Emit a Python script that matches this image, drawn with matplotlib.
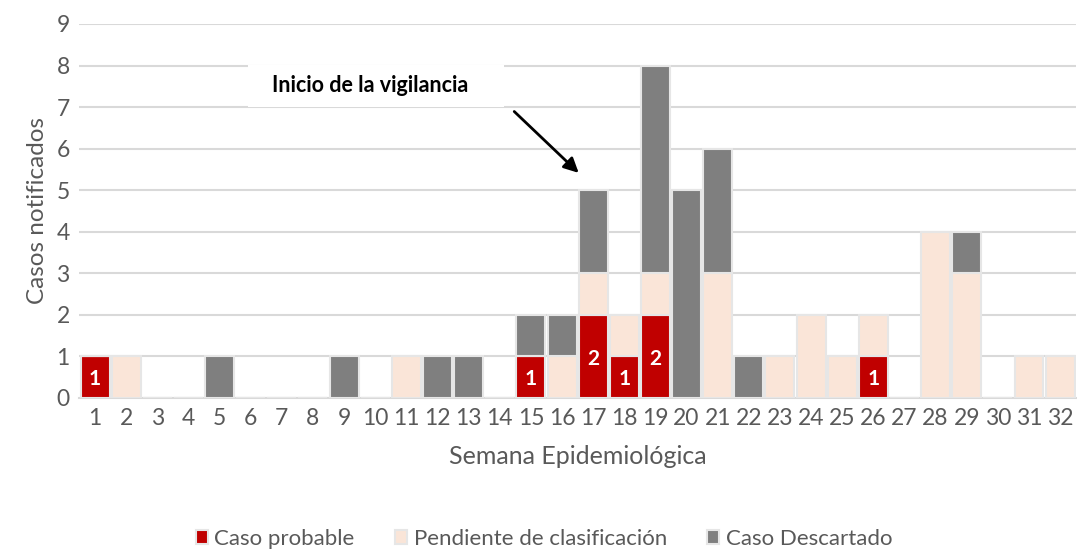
import numpy as np
import matplotlib.pyplot as plt
from matplotlib.patches import Rectangle

plt.rcParams['font.family'] = ['Lato', 'DejaVu Sans']

weeks = list(range(1, 33))
probable = [1, 0, 0, 0, 0, 0, 0, 0, 0, 0, 0, 0, 0, 0, 1, 0,
            2, 1, 2, 0, 0, 0, 0, 0, 0, 1, 0, 0, 0, 0, 0, 0]
pendiente = [0, 1, 0, 0, 0, 0, 0, 0, 0, 0, 1, 0, 0, 0, 0, 1,
             1, 1, 1, 0, 3, 0, 1, 2, 1, 1, 0, 4, 3, 0, 1, 1]
descartado = [0, 0, 0, 0, 1, 0, 0, 0, 1, 0, 0, 1, 1, 0, 1, 1,
              2, 0, 5, 5, 3, 1, 0, 0, 0, 0, 0, 0, 1, 0, 0, 0]

c_prob = '#c00000'
c_pend = '#fae5d8'
c_desc = '#7f7f7f'
txt = '#595959'

fig = plt.figure(figsize=(10.77, 5.5), dpi=100)
ax = fig.add_axes([0.0738, 0.2764, 0.925, 0.68])

x = np.array(weeks)
p = np.array(probable)
pe = np.array(pendiente)
d = np.array(descartado)
w = 0.93
kw = dict(width=w, edgecolor='#e6e6e6', linewidth=1.5, zorder=3)
b1 = ax.bar(x, p, color=c_prob, label='Caso probable', **kw)
b2 = ax.bar(x, pe, bottom=p, color=c_pend, label='Pendiente de clasificación', **kw)
b3 = ax.bar(x, d, bottom=p + pe, color=c_desc, label='Caso Descartado', **kw)

for xi, v in zip(x, p):
    if v > 0:
        ax.text(xi, v / 2 - 0.05, str(v), ha='center', va='center', color='white',
                fontsize=15, fontweight='bold', zorder=4)

ax.set_xlim(0.5, 32.5)
ax.set_ylim(0, 9)
ax.set_yticks(range(0, 10))
ax.set_xticks(weeks)
ax.grid(axis='y', color='#d9d9d9', linewidth=1.5, zorder=0)
for s in ['top', 'right', 'left']:
    ax.spines[s].set_visible(False)
ax.spines['bottom'].set_color('#d9d9d9')
ax.spines['bottom'].set_linewidth(1.5)
ax.tick_params(axis='both', length=0, labelsize=16.5, colors=txt, pad=7)
ax.set_xlabel('Semana Epidemiológica', fontsize=18, color=txt, labelpad=12)
ax.set_ylabel('Casos notificados', fontsize=17.5, color=txt, labelpad=6)

# annotation box
ax.add_patch(Rectangle((5.92, 7.01), 8.2, 1.0, facecolor='white',
                       edgecolor='none', zorder=5))
ax.text(9.84, 7.52, 'Inicio de la vigilancia', ha='center', va='center',
        fontsize=15.5, fontweight='bold', color='black', zorder=6)
ax.annotate('', xy=(16.6, 5.37), xytext=(14.4, 6.94),
            arrowprops=dict(arrowstyle='-|>', color='black', lw=2,
                            mutation_scale=22), zorder=6)

fig.legend(handles=[b1, b2, b3], loc='lower center', bbox_to_anchor=(0.505, -0.035),
           ncol=3, frameon=False, fontsize=16, labelcolor=txt,
           handlelength=0.55, handleheight=0.6, handletextpad=0.3, columnspacing=1.8)

fig.savefig('out.png', dpi=100)
